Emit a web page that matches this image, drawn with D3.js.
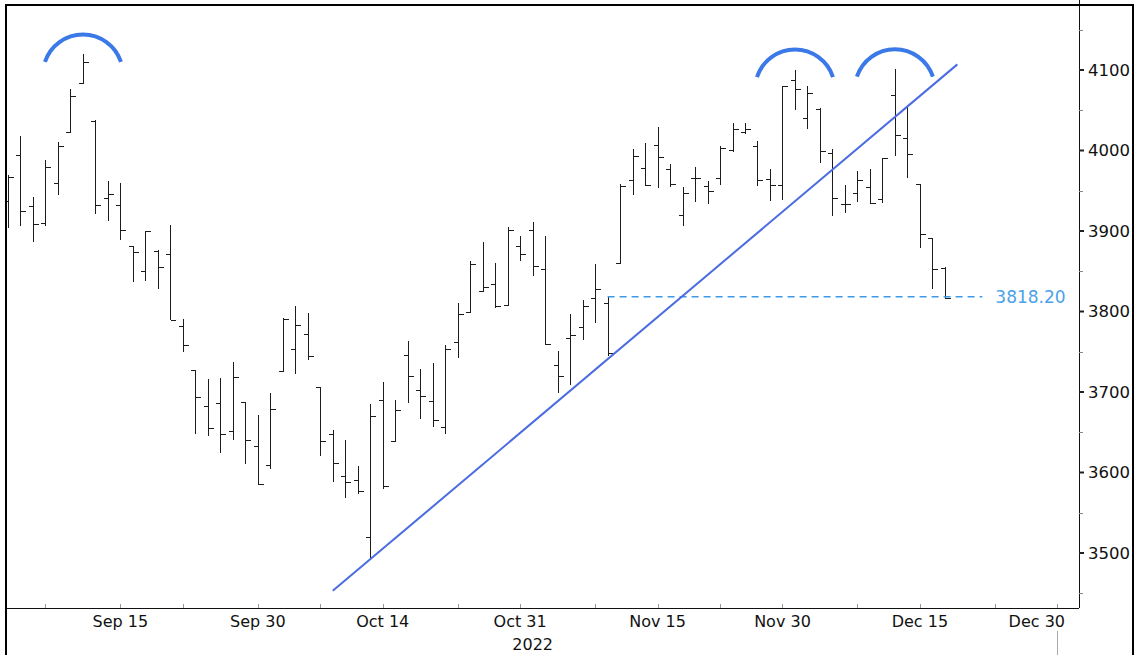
<!DOCTYPE html>
<html>
<head>
<meta charset="utf-8">
<script src="https://cdn.jsdelivr.net/npm/d3@7"></script>
<style>
  body { margin: 0; background: #fff; }
  svg { display: block; font-family: "DejaVu Sans", Verdana, sans-serif; }
</style>
</head>
<body>
<div id="chart"></div>
<script>
// daily bars, Sep 1 - Dec 19 2022
const dates = [
  "2022-09-01","2022-09-02","2022-09-06","2022-09-07","2022-09-08","2022-09-09","2022-09-12","2022-09-13","2022-09-14","2022-09-15",
  "2022-09-16","2022-09-19","2022-09-20","2022-09-21","2022-09-22","2022-09-23","2022-09-26","2022-09-27","2022-09-28","2022-09-29",
  "2022-09-30","2022-10-03","2022-10-04","2022-10-05","2022-10-06","2022-10-07","2022-10-10","2022-10-11","2022-10-12","2022-10-13",
  "2022-10-14","2022-10-17","2022-10-18","2022-10-19","2022-10-20","2022-10-21","2022-10-24","2022-10-25","2022-10-26","2022-10-27",
  "2022-10-28","2022-10-31","2022-11-01","2022-11-02","2022-11-03","2022-11-04","2022-11-07","2022-11-08","2022-11-09","2022-11-10",
  "2022-11-11","2022-11-14","2022-11-15","2022-11-16","2022-11-17","2022-11-18","2022-11-21","2022-11-22","2022-11-23","2022-11-25",
  "2022-11-28","2022-11-29","2022-11-30","2022-12-01","2022-12-02","2022-12-05","2022-12-06","2022-12-07","2022-12-08","2022-12-09",
  "2022-12-12","2022-12-13","2022-12-14","2022-12-15","2022-12-16","2022-12-19"
];
const opens = [
  3937, 3994.7, 3930.9, 3909.4, 3959.9, 4022.9, 4083.7, 4037.1, 3940.7, 3932.4,
  3880.9, 3849.9, 3875.2, 3871.4, 3782.4, 3727.1, 3682.7, 3686.4, 3651.9, 3687.0,
  3633.5, 3609.8, 3726.5, 3753.3, 3772.0, 3706.7, 3647.5, 3595.9, 3590.8, 3520.4,
  3690.4, 3638.7, 3746.3, 3703.1, 3689.1, 3657.1, 3762.0, 3799.4, 3826.0, 3834.7,
  3808.3, 3881.9, 3901.8, 3852.9, 3733.3, 3767.0, 3780.7, 3817.0, 3810.9, 3859.9,
  3963.7, 3978.0, 4006.4, 3976.8, 3919.3, 3966.4, 3956.2, 3965.5, 4000.3, 4023.3,
  4005.4, 3964.2, 3957.2, 4087.1, 4040.2, 4052.0, 3996.6, 3933.3, 3947.8, 3954.2,
  3939.3, 4069.4, 4015.5, 3958.4, 3890.9, 3853.8
];
const highs = [
  3970, 4018.4, 3942.6, 3987.9, 4010.5, 4076.8, 4119.3, 4038.0, 3961.9, 3959.1,
  3880.9, 3900.5, 3876.0, 3907.1, 3790.8, 3727.1, 3715.7, 3717.5, 3736.7, 3687.0,
  3671.4, 3698.4, 3791.9, 3806.9, 3797.9, 3706.7, 3652.2, 3640.7, 3608.3, 3685.4,
  3712.0, 3689.7, 3762.8, 3728.6, 3736.0, 3757.9, 3810.7, 3862.9, 3886.2, 3860.0,
  3905.4, 3893.7, 3911.8, 3894.4, 3750.6, 3796.3, 3814.0, 3859.4, 3818.2, 3958.3,
  4001.5, 4009.0, 4028.8, 3983.5, 3954.3, 3979.9, 3962.0, 4005.9, 4033.8, 4034.0,
  4012.3, 3976.8, 4080.1, 4100.5, 4080.5, 4052.5, 4001.5, 3957.6, 3974.2, 3977.0,
  3990.7, 4101.0, 4053.8, 3958.4, 3890.9, 3854.9
];
const lows = [
  3904, 3906.2, 3886.8, 3906.0, 3944.8, 4022.9, 4083.7, 3921.0, 3912.4, 3888.3,
  3837.1, 3838.5, 3827.5, 3789.5, 3749.5, 3647.5, 3644.8, 3623.8, 3640.6, 3610.4,
  3584.1, 3604.9, 3726.5, 3722.7, 3739.2, 3620.7, 3588.1, 3568.5, 3573.9, 3491.6,
  3579.7, 3638.7, 3686.5, 3666.5, 3656.3, 3647.4, 3741.7, 3799.4, 3824.1, 3803.8,
  3808.3, 3863.2, 3843.8, 3758.7, 3698.2, 3708.8, 3764.7, 3786.3, 3744.2, 3859.9,
  3944.8, 3956.4, 3953.2, 3954.3, 3906.5, 3936.0, 3933.3, 3956.9, 3998.7, 4020.8,
  3955.8, 3937.7, 3938.6, 4050.9, 4026.6, 3984.5, 3918.4, 3922.7, 3935.8, 3933.0,
  3935.3, 3993.0, 3965.7, 3879.5, 3827.9, 3815.5
];
const closes = [
  3966.9, 3924.3, 3908.2, 3979.9, 4006.2, 4067.4, 4110.4, 3932.7, 3946.0, 3901.4,
  3873.3, 3899.9, 3855.9, 3789.9, 3758.0, 3693.2, 3655.0, 3647.3, 3719.0, 3640.5,
  3585.6, 3678.4, 3790.9, 3783.3, 3744.5, 3639.7, 3612.4, 3588.8, 3577.0, 3669.9,
  3583.1, 3678.0, 3720.0, 3695.2, 3665.8, 3752.8, 3797.3, 3859.1, 3830.6, 3807.3,
  3901.1, 3872.0, 3856.1, 3759.7, 3719.9, 3770.6, 3806.8, 3828.1, 3748.6, 3956.4,
  3992.9, 3957.3, 3991.7, 3958.8, 3946.6, 3965.3, 3949.9, 4003.6, 4027.3, 4026.1,
  3963.9, 3957.6, 4080.1, 4076.6, 4071.7, 3998.8, 3941.3, 3933.9, 3963.5, 3934.4,
  3990.6, 4019.7, 3995.3, 3895.8, 3852.4, 3817.0
];

// empty sessions to the right of the last bar
const futureDates = ["2022-12-20","2022-12-21","2022-12-22","2022-12-23","2022-12-26","2022-12-27","2022-12-28","2022-12-29","2022-12-30"];

const xTickDates = ["2022-09-07","2022-09-15","2022-09-22","2022-09-30","2022-10-07","2022-10-14","2022-10-24","2022-10-31",
  "2022-11-08","2022-11-15","2022-11-22","2022-11-30","2022-12-08","2022-12-15","2022-12-23","2022-12-30"];
const xLabelDates = ["2022-09-15","2022-09-30","2022-10-14","2022-10-31","2022-11-15","2022-11-30","2022-12-15","2022-12-30"];
const xLabels = ["Sep 15","Sep 30","Oct 14","Oct 31","Nov 15","Nov 30","Dec 15","Dec 30"];
const yearLabel = "2022";

const yTicks = [3500, 3600, 3700, 3800, 3900, 4000, 4100];
const yMinorTicks = [3450, 3550, 3650, 3750, 3850, 3950, 4050, 4150];

// annotations
const peakDates = ["2022-09-12", "2022-12-01", "2022-12-13"];
const trendDates = ["2022-10-10", "2022-12-20"];
const trendValues = [3453, 4107];
const levelDates = ["2022-11-09", "2022-12-22"];
const levelValue = 3818.20;

const width = 1134;
const height = 655;
const plotLeft = 7, plotRight = 1079, plotTop = 5, plotBottom = 608;

const bars = dates.map((d, i) => ({ date: d, open: opens[i], high: highs[i], low: lows[i], close: closes[i] }));

const svg = d3.select('#chart').append('svg')
  .attr('width', width)
  .attr('height', height)
  .attr('viewBox', [0, 0, width, height]);

const x = d3.scalePoint()
  .domain(dates.concat(futureDates))
  .range([8, 1057.3]);

const y = d3.scaleLinear()
  .domain([3500, 4100])
  .range([553, 70]);

svg.append('defs').append('clipPath')
  .attr('id', 'plot-clip')
  .append('rect')
    .attr('x', plotLeft)
    .attr('y', plotTop)
    .attr('width', plotRight - plotLeft)
    .attr('height', plotBottom - plotTop);

const px = v => Math.round(v) + 0.5;

// bars
const plot = svg.append('g').attr('clip-path', 'url(#plot-clip)');

const barGroups = plot.selectAll('g.bar')
  .data(bars)
  .join('g')
    .attr('class', 'bar')
    .attr('stroke', '#1c1c1c')
    .attr('stroke-width', 1)
    .attr('shape-rendering', 'crispEdges');

barGroups.append('line')
  .attr('x1', d => px(x(d.date)))
  .attr('x2', d => px(x(d.date)))
  .attr('y1', d => y(d.high))
  .attr('y2', d => y(d.low));

barGroups.append('line')
  .attr('x1', d => px(x(d.date)) - 5)
  .attr('x2', d => px(x(d.date)))
  .attr('y1', d => px(y(d.open)))
  .attr('y2', d => px(y(d.open)));

barGroups.append('line')
  .attr('x1', d => px(x(d.date)))
  .attr('x2', d => px(x(d.date)) + 5)
  .attr('y1', d => px(y(d.close)))
  .attr('y2', d => px(y(d.close)));

// support level
plot.append('line')
  .attr('x1', x(levelDates[0]))
  .attr('x2', x(levelDates[1]))
  .attr('y1', y(levelValue))
  .attr('y2', y(levelValue))
  .attr('stroke', '#3f98e8')
  .attr('stroke-width', 1.5)
  .attr('stroke-dasharray', '7,5');

svg.append('text')
  .attr('x', x(levelDates[1]) + 13)
  .attr('y', y(levelValue))
  .attr('dy', '0.36em')
  .attr('fill', '#4ba2ea')
  .attr('font-size', 17)
  .text(levelValue.toFixed(2));

// trend line
plot.append('line')
  .attr('x1', x(trendDates[0]))
  .attr('y1', y(trendValues[0]))
  .attr('x2', x(trendDates[1]))
  .attr('y2', y(trendValues[1]))
  .attr('stroke', '#4a6ce0')
  .attr('stroke-width', 2);

// peak arcs
const arcR = 40, arcHalf = 38, arcLift = 20;
const arcDrop = arcR - Math.sqrt(arcR * arcR - arcHalf * arcHalf);
plot.selectAll('path.peak')
  .data(peakDates)
  .join('path')
    .attr('class', 'peak')
    .attr('d', d => {
      const cx = x(d);
      const top = y(highs[dates.indexOf(d)]) - arcLift;
      return `M${cx - arcHalf},${top + arcDrop} A${arcR},${arcR} 0 0 1 ${cx + arcHalf},${top + arcDrop}`;
    })
    .attr('fill', 'none')
    .attr('stroke', '#3b79e8')
    .attr('stroke-width', 4);

// right axis
svg.append('line')
  .attr('x1', px(plotRight)).attr('x2', px(plotRight))
  .attr('y1', 0).attr('y2', plotBottom)
  .attr('stroke', '#111');

svg.selectAll('line.ymajor')
  .data(yTicks)
  .join('line')
    .attr('class', 'ymajor')
    .attr('x1', plotRight).attr('x2', plotRight + 5)
    .attr('y1', d => y(d)).attr('y2', d => y(d))
    .attr('stroke', '#222')
    .attr('stroke-width', 2);

svg.selectAll('line.yminor')
  .data(yMinorTicks)
  .join('line')
    .attr('class', 'yminor')
    .attr('x1', plotRight).attr('x2', plotRight + 4)
    .attr('y1', d => px(y(d))).attr('y2', d => px(y(d)))
    .attr('stroke', '#888');

svg.selectAll('text.ylabel')
  .data(yTicks)
  .join('text')
    .attr('class', 'ylabel')
    .attr('x', plotRight + 9)
    .attr('y', d => y(d))
    .attr('dy', '0.36em')
    .attr('font-size', 16.5)
    .attr('fill', '#111')
    .text(d => d);

// bottom axis
svg.append('line')
  .attr('x1', plotLeft).attr('x2', plotRight)
  .attr('y1', px(plotBottom)).attr('y2', px(plotBottom))
  .attr('stroke', '#111');

svg.selectAll('line.xtick')
  .data(xTickDates)
  .join('line')
    .attr('class', 'xtick')
    .attr('x1', d => px(x(d))).attr('x2', d => px(x(d)))
    .attr('y1', plotBottom - 4).attr('y2', plotBottom)
    .attr('stroke', '#999');

// labels are kept inside the axis end
const labelMaxRight = plotRight - 14;
svg.selectAll('text.xlabel')
  .data(xLabelDates)
  .join('text')
    .attr('class', 'xlabel')
    .attr('y', 627)
    .attr('text-anchor', 'middle')
    .attr('font-size', 16)
    .attr('fill', '#111')
    .text((d, i) => xLabels[i])
    .attr('x', function(d) {
      const half = this.getComputedTextLength() / 2;
      return Math.min(x(d), labelMaxRight - half);
    });

svg.append('text')
  .attr('x', (x(dates[0]) + x(futureDates[futureDates.length - 1])) / 2)
  .attr('y', 650)
  .attr('text-anchor', 'middle')
  .attr('font-size', 16)
  .attr('fill', '#111')
  .text(yearLabel);

// year end marker
svg.append('line')
  .attr('x1', px(x(futureDates[futureDates.length - 1])))
  .attr('x2', px(x(futureDates[futureDates.length - 1])))
  .attr('y1', 631).attr('y2', height)
  .attr('stroke', '#aaa');

// outer frame
svg.append('rect')
  .attr('x', 6).attr('y', 5)
  .attr('width', 1127).attr('height', 660)
  .attr('fill', 'none')
  .attr('stroke', '#000')
  .attr('stroke-width', 2);
</script>
</body>
</html>
